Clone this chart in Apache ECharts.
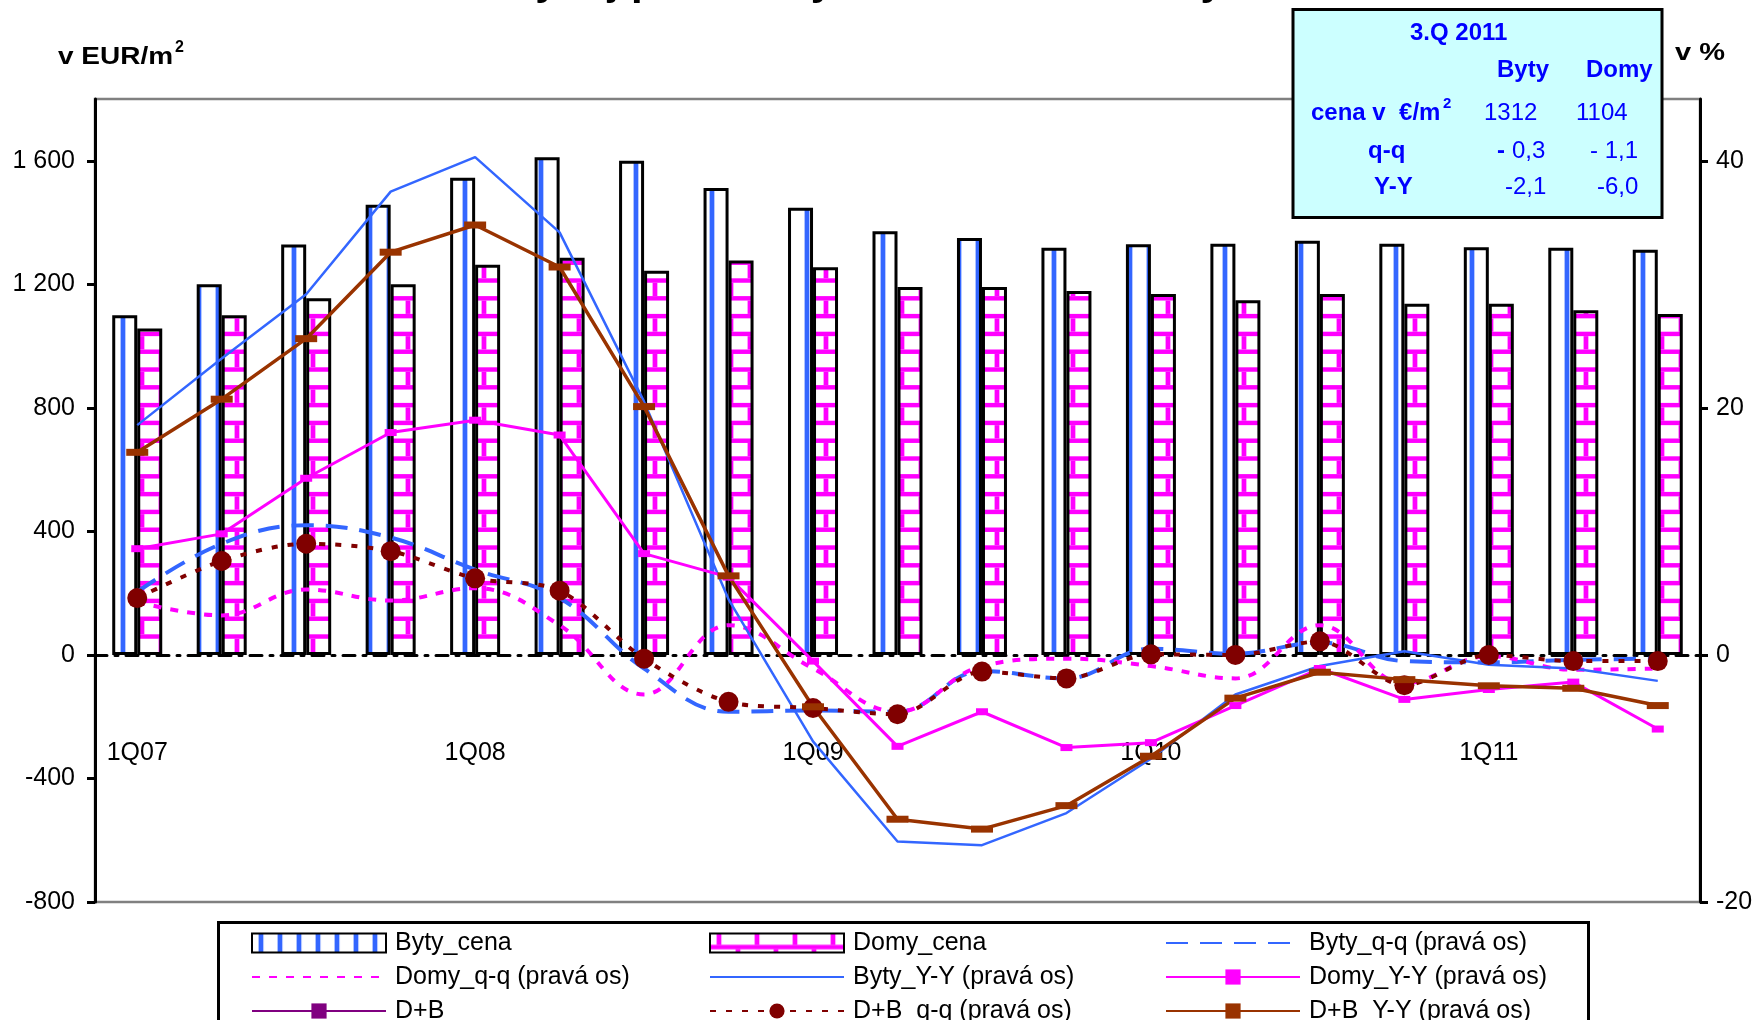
<!DOCTYPE html>
<html>
<head>
<meta charset="utf-8">
<script src="https://cdn.jsdelivr.net/npm/echarts@6/dist/echarts.min.js"></script>
<style>
  html, body { margin: 0; padding: 0; background: #ffffff; }
  #chart { width: 1756px; height: 1020px; }
</style>
</head>
<body>
<div id="chart"></div>
<script>
// Quarters 1Q07 .. 3Q11
const quarters = ['1Q07','2Q07','3Q07','4Q07','1Q08','2Q08','3Q08','4Q08','1Q09','2Q09','3Q09','4Q09','1Q10','2Q10','3Q10','4Q10','1Q11','2Q11','3Q11'];

// Average prices, EUR per m2 (left axis)
const bytyCena = [1100,1200,1329,1458,1545,1611,1600,1512,1448,1372,1350,1318,1330,1331,1341,1331,1320,1318,1312];
const domyCena = [1057,1100,1155,1200,1263,1286,1244,1277,1255,1191,1191,1178,1169,1148,1169,1137,1137,1116,1104];

// Changes in % (right axis)
const bytyQQ = [5.1,9.0,10.5,9.5,6.9,4.6,-1.1,-4.6,-4.5,-4.6,-1.3,-1.9,0.5,0.1,1.0,-0.5,-0.6,-0.4,-0.3];
const domyQQ = [4.3,3.2,5.3,4.4,5.4,2.4,-3.2,2.4,-1.1,-4.6,-0.9,-0.3,-0.9,-1.9,2.4,-2.3,-0.1,-1.2,-1.1];
const bytyYY = [18.6,24.0,29.2,37.5,40.3,34.2,20.5,4.5,-7.0,-15.1,-15.4,-12.8,-8.4,-3.2,-0.9,0.3,-0.8,-1.1,-2.1];
const domyYY = [8.6,9.8,14.3,18.0,19.0,17.8,8.2,6.3,-0.5,-7.4,-4.6,-7.5,-7.1,-4.1,-1.1,-3.6,-2.8,-2.2,-6.0];
const dbQQ = [4.6,7.6,9.0,8.4,6.2,5.2,-0.3,-3.8,-4.3,-4.8,-1.35,-1.9,0.05,0.0,1.1,-2.45,0.0,-0.5,-0.5];
const dbYY = [16.4,20.7,25.6,32.6,34.8,31.4,20.1,6.4,-4.2,-13.3,-14.1,-12.2,-8.2,-3.5,-1.4,-2.0,-2.5,-2.7,-4.1];
// D+B price series appears in the key only
const dbCena = [];

// Tick labels
const leftTicks = [-800,-400,0,400,800,1200,1600];
const rightTicks = [-20,0,20,40];

// Summary for the latest quarter
const boxQuarter = '3.Q 2011';
const boxCena = ['1312','1104'];
const boxQQ = ['0,3','- 1,1'];
const boxYY = ['-2,1','-6,0'];

const BLUE = '#3366ff', MAGENTA = '#ff00ff';
const FONT = '"Liberation Sans", Arial, sans-serif';

// vertical stripes for flats
function stripeTile() {
  const c = document.createElement('canvas');
  c.width = 19; c.height = 8;
  const g = c.getContext('2d');
  g.fillStyle = '#ffffff'; g.fillRect(0, 0, 19, 8);
  g.fillStyle = BLUE; g.fillRect(6.6, 0, 4.75, 8);
  return c;
}
// horizontal bricks for houses
function brickTile() {
  const w = 38, h = 356, p = 17.8, t = 4.45;
  const c = document.createElement('canvas');
  c.width = w; c.height = h;
  const g = c.getContext('2d');
  g.fillStyle = '#ffffff'; g.fillRect(0, 0, w, h);
  g.fillStyle = MAGENTA;
  for (let i = -1; i < 20; i++) {
    const y0 = 11.3 + i * p;
    g.fillRect(0, y0, w, t);
    const x = (((i % 2) + 2) % 2 === 0) ? 25.6 : 6.6;
    g.fillRect(x, y0 + t, 4.75, p - t);
  }
  return c;
}

function fmtLeft(v) {
  if (leftTicks.indexOf(v) < 0) return '';
  if (Math.abs(v) >= 1000) {
    const s = v < 0 ? '-' : '';
    const a = Math.abs(v);
    return s + Math.floor(a / 1000) + ' ' + String(a % 1000).padStart(3, '0');
  }
  return String(v);
}

const chart = echarts.init(document.getElementById('chart'), null, { renderer: 'canvas' });

const legendCommon = {
  orient: 'vertical', top: 930.5, height: 200, itemWidth: 134, itemHeight: 19, itemGap: 9,
  padding: 0, selectedMode: false,
  textStyle: { fontFamily: FONT, fontSize: 25, color: '#000', padding: [0, 0, 0, 4] }
};
const noMark = name => ({ name: name, itemStyle: { opacity: 0 } });

const txt = (text, x, y, font) => ({
  type: 'text', x: x, y: y, z: 10,
  style: { text: text, font: font, fill: '#0000ff', textAlign: 'left', textVerticalAlign: 'middle' }
});

chart.setOption({
  animation: false,
  backgroundColor: '#ffffff',
  grid: { left: 95, right: 56, top: 99, bottom: 118, show: true, borderColor: '#808080', borderWidth: 2.5, backgroundColor: 'transparent' },
  xAxis: {
    type: 'category', data: quarters, boundaryGap: true,
    axisLine: { onZero: true, lineStyle: { color: '#000', width: 3, type: [12, 8, 3, 8] } },
    axisTick: { show: false },
    axisLabel: { interval: 3, margin: -161, fontFamily: FONT, fontSize: 25, color: '#000' },
    splitLine: { show: false }
  },
  yAxis: [
    {
      type: 'value', min: -800, max: 1800, interval: 400, position: 'left',
      axisLine: { show: true, lineStyle: { color: '#000', width: 3 } },
      axisTick: { show: true, length: 8, lineStyle: { color: '#000', width: 3 }, customValues: leftTicks },
      axisLabel: { margin: 20, fontFamily: FONT, fontSize: 25, color: '#000', formatter: fmtLeft, customValues: leftTicks },
      splitLine: { show: false }
    },
    {
      type: 'value', min: -20, max: 45, interval: 20, position: 'right',
      axisLine: { show: true, lineStyle: { color: '#000', width: 3 } },
      axisTick: { show: true, length: 8, lineStyle: { color: '#000', width: 3 }, customValues: rightTicks },
      axisLabel: { margin: 16, fontFamily: FONT, fontSize: 25, color: '#000', customValues: rightTicks,
        formatter: v => rightTicks.indexOf(v) < 0 ? '' : String(v) },
      splitLine: { show: false }
    }
  ],
  legend: [
    Object.assign({}, legendCommon, { left: 251, data: [{ name: 'Byty_cena', icon: 'rect' }, noMark('Domy_q-q (pravá os)'), 'D+B'] }),
    Object.assign({}, legendCommon, { left: 709, data: [{ name: 'Domy_cena', icon: 'rect' }, noMark('Byty_Y-Y (pravá os)'), 'D+B_q-q (pravá os)'] }),
    Object.assign({}, legendCommon, { left: 1165, data: [noMark('Byty_q-q (pravá os)'), 'Domy_Y-Y (pravá os)', 'D+B_Y-Y (pravá os)'] })
  ],
  series: [
    {
      name: 'Byty_cena', type: 'bar', yAxisIndex: 0, data: bytyCena, barWidth: 25, barGap: '0%',
      itemStyle: { color: { image: stripeTile(), repeat: 'repeat' }, borderColor: '#000', borderWidth: 3 }
    },
    {
      name: 'Domy_cena', type: 'bar', yAxisIndex: 0, data: domyCena, barWidth: 25, barGap: '0%',
      itemStyle: { color: { image: brickTile(), repeat: 'repeat' }, borderColor: '#000', borderWidth: 3 }
    },
    {
      name: 'Byty_q-q (pravá os)', type: 'line', yAxisIndex: 1, data: bytyQQ, smooth: 0.4, symbol: 'none',
      itemStyle: { color: BLUE }, lineStyle: { color: BLUE, width: 4, type: [22, 12] }
    },
    {
      name: 'Domy_q-q (pravá os)', type: 'line', yAxisIndex: 1, data: domyQQ, smooth: 0.4, symbol: 'none',
      itemStyle: { color: MAGENTA }, lineStyle: { color: MAGENTA, width: 4, type: [8, 9] }
    },
    {
      name: 'Byty_Y-Y (pravá os)', type: 'line', yAxisIndex: 1, data: bytyYY, symbol: 'none',
      itemStyle: { color: BLUE }, lineStyle: { color: BLUE, width: 2.5 }
    },
    {
      name: 'Domy_Y-Y (pravá os)', type: 'line', yAxisIndex: 1, data: domyYY, symbol: 'rect', symbolSize: [12, 7], showAllSymbol: true,
      itemStyle: { color: MAGENTA }, lineStyle: { color: MAGENTA, width: 3 }
    },
    {
      name: 'D+B', type: 'line', yAxisIndex: 0, data: dbCena, symbol: 'rect', symbolSize: [5, 12],
      itemStyle: { color: '#800080' }, lineStyle: { color: '#800080', width: 3 }
    },
    {
      name: 'D+B_q-q (pravá os)', type: 'line', yAxisIndex: 1, data: dbQQ, smooth: 0.3, symbol: 'circle', symbolSize: 20, showAllSymbol: true,
      itemStyle: { color: '#800000' }, lineStyle: { color: '#800000', width: 4, type: [6, 10] }
    },
    {
      name: 'D+B_Y-Y (pravá os)', type: 'line', yAxisIndex: 1, data: dbYY, symbol: 'rect', symbolSize: [22, 7], showAllSymbol: true,
      itemStyle: { color: '#993300' }, lineStyle: { color: '#993300', width: 3.5 }
    }
  ],
  graphic: [
    // title, cut by the top edge
    { type: 'text', x: 897, y: -18, z: 10, style: { text: 'Vývoj priemerných cien domov a bytov', font: 'bold 42px ' + FONT, fill: '#000', textAlign: 'center', textVerticalAlign: 'middle' } },
    // axis units
    { type: 'text', x: 58, y: 57, z: 10, scaleY: 0.86, style: { text: 'v EUR/m', font: 'bold 28px ' + FONT, fill: '#000', textVerticalAlign: 'middle' } },
    { type: 'text', x: 175, y: 48, z: 10, style: { text: '2', font: 'bold 16px ' + FONT, fill: '#000', textVerticalAlign: 'middle' } },
    { type: 'text', x: 1675, y: 53, z: 10, scaleY: 0.82, style: { text: 'v %', font: 'bold 29px ' + FONT, fill: '#000', textVerticalAlign: 'middle' } },
    // key frame
    { type: 'rect', z: 0, shape: { x: 218.5, y: 922.5, width: 1370, height: 160 }, style: { fill: '#ffffff', stroke: '#000', lineWidth: 3 } },
    // summary box
    { type: 'rect', z: 9, shape: { x: 1293, y: 9.5, width: 369, height: 208 }, style: { fill: '#ccffff', stroke: '#000', lineWidth: 3 } },
    txt(boxQuarter, 1410, 33, 'bold 24px ' + FONT),
    txt('Byty', 1497, 70, 'bold 24px ' + FONT),
    txt('Domy', 1586, 70, 'bold 24px ' + FONT),
    txt('cena v  €/m', 1311, 113, 'bold 24px ' + FONT),
    txt('2', 1443, 104, 'bold 15px ' + FONT),
    txt(boxCena[0], 1484, 113, '24px ' + FONT),
    txt(boxCena[1], 1576, 113, '24px ' + FONT),
    txt('q-q', 1368, 151, 'bold 24px ' + FONT),
    txt('-', 1497, 151, 'bold 24px ' + FONT),
    txt(boxQQ[0], 1512, 151, '24px ' + FONT),
    txt(boxQQ[1], 1590, 151, '24px ' + FONT),
    txt('Y-Y', 1374, 187, 'bold 24px ' + FONT),
    txt(boxYY[0], 1505, 187, '24px ' + FONT),
    txt(boxYY[1], 1597, 187, '24px ' + FONT)
  ]
});
</script>
</body>
</html>
